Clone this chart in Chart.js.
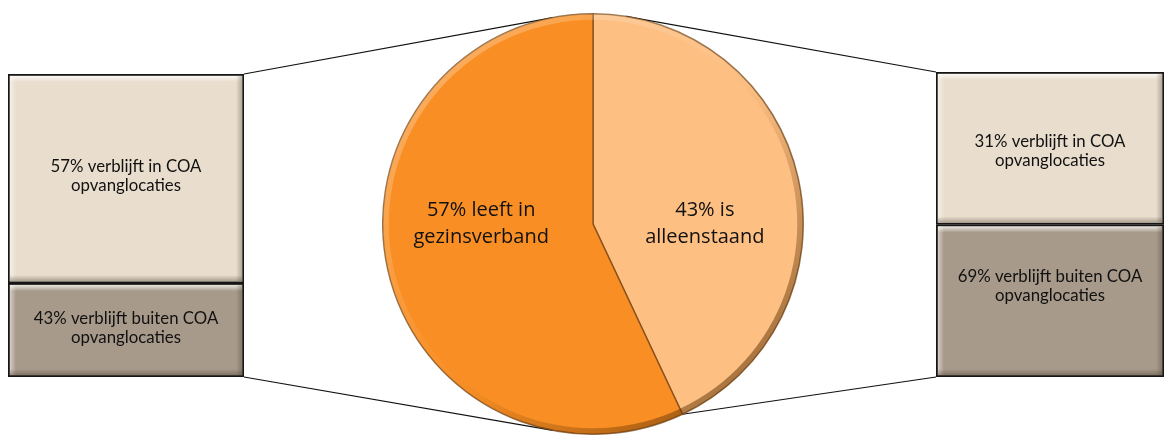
<!DOCTYPE html>
<html><head><meta charset="utf-8">
<script src="https://cdn.jsdelivr.net/npm/chart.js@4.4.1/dist/chart.umd.min.js"></script>
<style>
html,body{margin:0;padding:0;background:#fff;}
#wrap{position:relative;width:1165px;height:435px;overflow:hidden;background:#fff;}
#lines{position:absolute;left:0;top:0;}
.box{position:absolute;}
</style></head><body>
<div id="wrap">
<canvas id="lines" width="1165" height="435"></canvas>
<div class="box" id="leftBox" style="left:8px;top:74px;width:236px;height:303px"><canvas id="leftChart"></canvas></div>
<div class="box" id="pieBox" style="left:382px;top:13px;width:422px;height:422px"><canvas id="pieChart"></canvas></div>
<div class="box" id="rightBox" style="left:936px;top:72px;width:228px;height:305px"><canvas id="rightChart"></canvas></div>
</div>
<script>
// ---- data ----
const pieCategories = ['43% is alleenstaand', '57% leeft in gezinsverband'];
const pieValues = [43, 57];
const pieLabelLines = [['43% is', 'alleenstaand'], ['57% leeft in', 'gezinsverband']];

const leftCategories = ['57% verblijft in COA opvanglocaties', '43% verblijft buiten COA opvanglocaties'];
const leftLabelLines = [['57% verblijft in COA', 'opvanglocaties'], ['43% verblijft buiten COA', 'opvanglocaties']];
const leftValues = [69, 31];

const rightCategories = ['31% verblijft in COA opvanglocaties', '69% verblijft buiten COA opvanglocaties'];
const rightLabelLines = [['31% verblijft in COA', 'opvanglocaties'], ['69% verblijft buiten COA', 'opvanglocaties']];
const rightValues = [50, 50];

// ---- styles ----
const pieColors = ['#FDBF82', '#F98F24'];
const boxColors = ['#E9DECE', '#A79A8A'];
const boxFont = '16.8px Lato, "Open Sans", sans-serif';
const pieFont = '20px "Open Sans", Lato, sans-serif';

const boxPlugin = {
  id: 'boxDecor',
  afterDatasetsDraw(chart, args, opts) {
    const ctx = chart.ctx;
    chart.data.datasets.forEach((ds, i) => {
      const el = chart.getDatasetMeta(i).data[0];
      const p = el.getProps(['x', 'y', 'base', 'width'], true);
      const left = p.x - p.width / 2 + 2, right = p.x + p.width / 2 - 2;
      const top = Math.min(p.y, p.base) + 2, bottom = Math.max(p.y, p.base) - 2;
      const bw = 6;
      ctx.save();
      let g = ctx.createLinearGradient(0, top, 0, top + bw);
      g.addColorStop(0, 'rgba(255,255,255,0.75)'); g.addColorStop(1, 'rgba(255,255,255,0)');
      ctx.fillStyle = g; ctx.fillRect(left, top, right - left, bw);
      g = ctx.createLinearGradient(left, 0, left + bw, 0);
      g.addColorStop(0, 'rgba(255,255,255,0.5)'); g.addColorStop(1, 'rgba(255,255,255,0)');
      ctx.fillStyle = g; ctx.fillRect(left, top, bw, bottom - top);
      g = ctx.createLinearGradient(0, bottom, 0, bottom - bw);
      g.addColorStop(0, 'rgba(60,45,30,0.35)'); g.addColorStop(1, 'rgba(60,45,30,0)');
      ctx.fillStyle = g; ctx.fillRect(left, bottom - bw, right - left, bw);
      g = ctx.createLinearGradient(right, 0, right - bw, 0);
      g.addColorStop(0, 'rgba(60,45,30,0.3)'); g.addColorStop(1, 'rgba(60,45,30,0)');
      ctx.fillStyle = g; ctx.fillRect(right - bw, top, bw, bottom - top);
      // label
      const lines = opts.lines[i];
      const lh = 19;
      const cy = (top + bottom) / 2 + (opts.nudge ? opts.nudge[i] : 0);
      ctx.fillStyle = '#111';
      ctx.font = boxFont;
      ctx.textAlign = 'center';
      ctx.textBaseline = 'middle';
      lines.forEach((t, k) => {
        ctx.fillText(t, p.x, cy + (k - (lines.length - 1) / 2) * lh);
      });
      ctx.restore();
    });
  }
};

function makeBox(id, cats, values, lines, nudge) {
  const total = values.reduce((a, b) => a + b, 0);
  return new Chart(document.getElementById(id), {
    type: 'bar',
    data: {
      labels: [''],
      datasets: values.map((v, i) => ({
        label: cats[i],
        data: [v],
        backgroundColor: boxColors[i],
        borderColor: '#151515',
        borderWidth: 2,
        borderSkipped: false,
        categoryPercentage: 1,
        barPercentage: 1,
        stack: 's'
      }))
    },
    options: {
      responsive: true, maintainAspectRatio: false, animation: false, events: [],
      layout: { padding: 0 },
      plugins: { legend: { display: false }, tooltip: { enabled: false },
        boxDecor: { lines: lines, nudge: nudge } },
      scales: {
        x: { stacked: true, display: false },
        y: { stacked: true, display: false, reverse: true, min: 0, max: total }
      }
    },
    plugins: [boxPlugin]
  });
}

const pieLabelPlugin = {
  id: 'pieLabels',
  afterDatasetsDraw(chart) {
    const ctx = chart.ctx;
    const meta = chart.getDatasetMeta(0);
    const a0 = meta.data[0].getProps(['x', 'y', 'outerRadius'], true);
    const cx = a0.x, cy = a0.y, r = a0.outerRadius;
    // bevel ring
    ctx.save();
    ctx.beginPath();
    ctx.arc(cx, cy, r, 0, Math.PI * 2);
    ctx.arc(cx, cy, r - 6, 0, Math.PI * 2, true);
    ctx.clip();
    const g = ctx.createLinearGradient(cx - r * 0.7, cy - r * 0.7, cx + r * 0.7, cy + r * 0.7);
    g.addColorStop(0, 'rgba(255,255,255,0.25)');
    g.addColorStop(0.45, 'rgba(255,255,255,0.03)');
    g.addColorStop(0.6, 'rgba(90,45,0,0.05)');
    g.addColorStop(1, 'rgba(90,45,0,0.5)');
    ctx.fillStyle = g;
    ctx.fillRect(cx - r, cy - r, 2 * r, 2 * r);
    ctx.restore();

    meta.data.forEach((arc, i) => {
      const p = arc.getProps(['x', 'y', 'startAngle', 'endAngle', 'outerRadius'], true);
      const mid = (p.startAngle + p.endAngle) / 2;
      const tx = p.x + Math.cos(mid) * p.outerRadius * 0.545;
      const ty = p.y;
      const lines = pieLabelLines[i];
      const lh = 27;
      ctx.save();
      ctx.fillStyle = '#111';
      ctx.font = pieFont;
      ctx.textAlign = 'center';
      ctx.textBaseline = 'middle';
      lines.forEach((t, k) => ctx.fillText(t, tx, ty + (k - (lines.length - 1) / 2) * lh));
      ctx.restore();
    });
  }
};

const leftChart = makeBox('leftChart', leftCategories, leftValues, leftLabelLines, [-2, -2]);
const rightChart = makeBox('rightChart', rightCategories, rightValues, rightLabelLines, [3, -15]);

const pieChart = new Chart(document.getElementById('pieChart'), {
  type: 'pie',
  data: {
    labels: pieCategories,
    datasets: [{ data: pieValues, backgroundColor: pieColors, borderColor: 'rgba(110,62,15,0.7)', borderWidth: 1.5 }]
  },
  options: {
    responsive: true, maintainAspectRatio: false, animation: false, events: [],
    layout: { padding: 0 },
    rotation: 0,
    plugins: { legend: { display: false }, tooltip: { enabled: false } }
  },
  plugins: [pieLabelPlugin]
});

// ---- connector lines ----
function offsetOf(id) {
  const el = document.getElementById(id);
  return { x: el.offsetLeft, y: el.offsetTop };
}
function boxEdges(chart, boxId) {
  const o = offsetOf(boxId);
  const n = chart.data.datasets.length;
  const first = chart.getDatasetMeta(0).data[0].getProps(['x', 'y', 'base', 'width'], true);
  const last = chart.getDatasetMeta(n - 1).data[0].getProps(['x', 'y', 'base', 'width'], true);
  return {
    left: o.x + first.x - first.width / 2,
    right: o.x + first.x + first.width / 2,
    top: o.y + Math.min(first.y, first.base),
    bottom: o.y + Math.max(last.y, last.base)
  };
}
function drawLines() {
  const lc = document.getElementById('lines').getContext('2d');
  lc.clearRect(0, 0, 1165, 435);
  const L = boxEdges(leftChart, 'leftBox');
  const R = boxEdges(rightChart, 'rightBox');
  const po = offsetOf('pieBox');
  const arcs = pieChart.getDatasetMeta(0).data;
  const a0 = arcs[0].getProps(['x', 'y', 'startAngle', 'endAngle', 'outerRadius'], true);
  const cx = po.x + a0.x, cy = po.y + a0.y, r = a0.outerRadius;
  const pt = (rad) => [cx + Math.cos(rad) * r, cy + Math.sin(rad) * r];
  const deg = Math.PI / 180;
  const segs = [
    [[L.right, L.top], pt(-90 * deg - 11 * deg)],
    [[L.right, L.bottom], pt(-90 * deg + 191 * deg)],
    [[R.left, R.top], pt(-90 * deg + 9 * deg)],
    [[R.left, R.bottom], pt(a0.endAngle)]
  ];
  lc.strokeStyle = '#111';
  lc.lineWidth = 1.2;
  segs.forEach(([a, b]) => {
    lc.beginPath(); lc.moveTo(a[0], a[1]); lc.lineTo(b[0], b[1]); lc.stroke();
  });
}
drawLines();
</script>
</body></html>
